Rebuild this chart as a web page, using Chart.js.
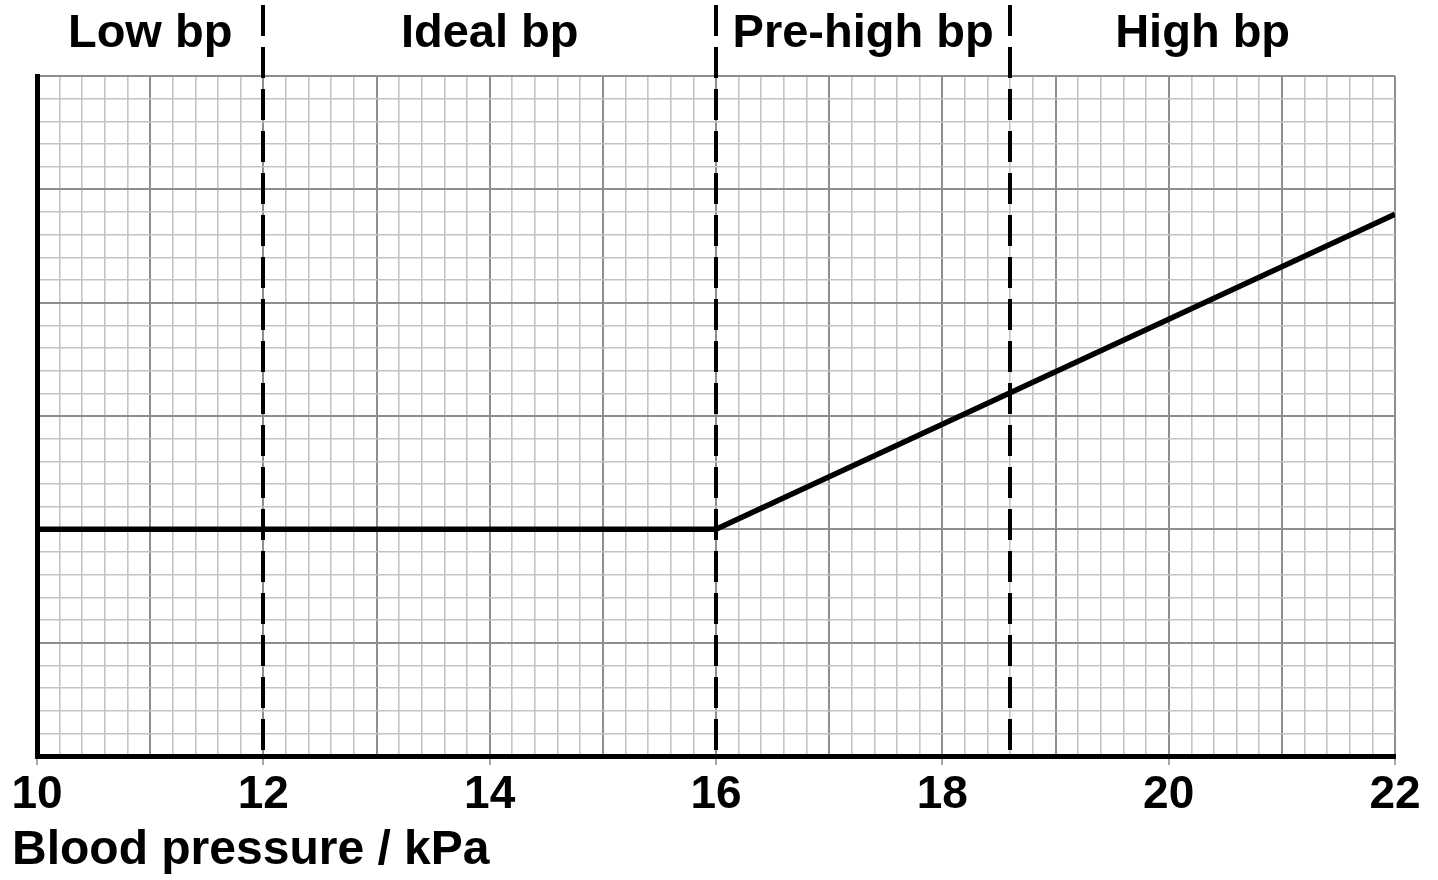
<!DOCTYPE html>
<html>
<head>
<meta charset="utf-8">
<script src="https://cdn.jsdelivr.net/npm/chart.js@4.4.1/dist/chart.umd.min.js"></script>
<style>
  html, body { margin: 0; padding: 0; background: #fff; }
  #wrap { width: 1438px; height: 880px; }
</style>
</head>
<body>
<div id="wrap"><canvas id="bpChart" width="1438" height="880"></canvas></div>
<script>
// data
const bpValues = [10, 16, 22];
const curveValues = [2, 2, 4.78];
// zone boundaries (kPa) and their names
const zoneEdges = [10, 12, 16, 18.6, 22];
const zoneNames = ['Low bp', 'Ideal bp', 'Pre-high bp', 'High bp'];
const xLabelEvery = 2;

const FONT = "'Liberation Sans', Arial, sans-serif";

function isMajor(v) {
    return Math.abs(v - Math.round(v)) < 1e-6;
}

// dashed zone lines + zone names on top
const zonePlugin = {
    id: 'zones',
    afterDatasetsDraw(chart) {
        const ctx = chart.ctx;
        const xs = chart.scales.x;
        const area = chart.chartArea;
        ctx.save();
        ctx.strokeStyle = '#000';
        ctx.lineWidth = 4;
        ctx.setLineDash([31, 11]);
        for (let i = 1; i < zoneEdges.length - 1; i++) {
            const px = Math.round(xs.getPixelForValue(zoneEdges[i]));
            ctx.beginPath();
            ctx.moveTo(px, 5);
            ctx.lineTo(px, area.bottom);
            ctx.stroke();
        }
        ctx.setLineDash([]);
        ctx.fillStyle = '#000';
        ctx.font = 'bold 47px ' + FONT;
        ctx.textAlign = 'center';
        ctx.textBaseline = 'middle';
        for (let i = 0; i < zoneNames.length; i++) {
            const mid = (zoneEdges[i] + zoneEdges[i + 1]) / 2;
            ctx.fillText(zoneNames[i], xs.getPixelForValue(mid), 34);
        }
        ctx.restore();
    }
};

const gridStyle = {
    color: function(c) { return isMajor(c.tick.value) ? '#8e8e8e' : '#c4c4c4'; },
    lineWidth: function(c) { return isMajor(c.tick.value) ? 2 : 1.6; }
};

const config = {
    type: 'line',
    data: {
        datasets: [{
            data: bpValues.map((v, i) => ({ x: v, y: curveValues[i] })),
            borderColor: '#000',
            borderWidth: 5.5,
            pointRadius: 0,
            tension: 0,
            fill: false
        }]
    },
    options: {
        responsive: false,
        animation: false,
        layout: { padding: { left: 12, top: 76, right: 43, bottom: 0 } },
        plugins: {
            legend: { display: false },
            tooltip: { enabled: false },
            title: {
                display: true,
                position: 'bottom',
                align: 'start',
                text: 'Blood pressure / kPa',
                color: '#000',
                font: { family: FONT, size: 48, weight: 'bold', lineHeight: 1.2 },
                padding: { top: 0, bottom: 0 }
            }
        },
        scales: {
            x: {
                type: 'linear',
                min: 10,
                max: 22,
                ticks: {
                    stepSize: 0.2,
                    autoSkip: false,
                    maxRotation: 0,
                    color: '#000',
                    padding: 3,
                    font: { family: FONT, size: 46, weight: 'bold' },
                    callback: function(v) {
                        const r = Math.round(v);
                        return (isMajor(v) && r % xLabelEvery === 0) ? String(r) : '';
                    }
                },
                grid: {
                    color: gridStyle.color,
                    lineWidth: gridStyle.lineWidth,
                    tickLength: 9,
                    tickWidth: 1.5,
                    tickColor: function(c) {
                        const v = c.tick.value;
                        return (isMajor(v) && Math.round(v) % xLabelEvery === 0) ? '#888' : 'rgba(0,0,0,0)';
                    }
                },
                border: { color: '#000', width: 5 },
                afterFit: function(scale) { scale.height = 880 - 756 - 57.6; }
            },
            y: {
                min: 0,
                max: 6,
                ticks: { stepSize: 0.2, display: false },
                grid: {
                    color: gridStyle.color,
                    lineWidth: gridStyle.lineWidth,
                    drawTicks: false
                },
                border: { color: '#000', width: 5 },
                afterFit: function(scale) { scale.width = 25; }
            }
        }
    },
    plugins: [zonePlugin]
};

var bpChart = new Chart(document.getElementById('bpChart'), config);
</script>
</body>
</html>
